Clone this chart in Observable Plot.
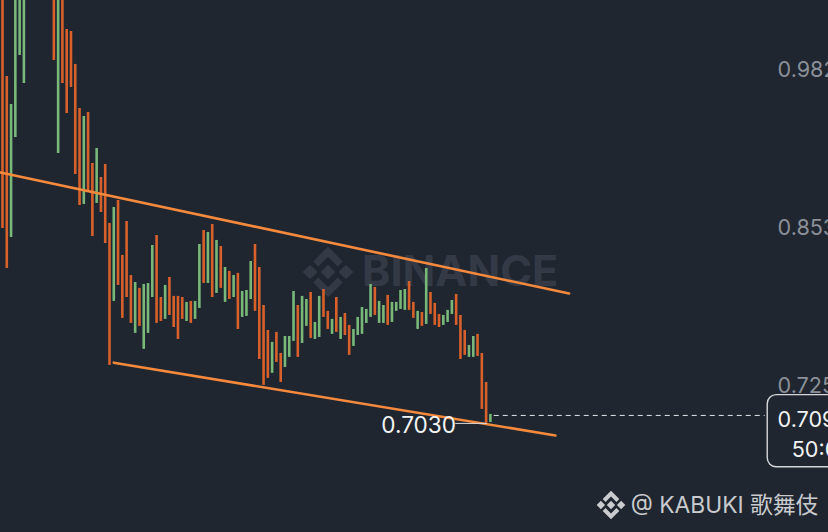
<!DOCTYPE html>
<html><head><meta charset="utf-8">
<script src="https://cdn.jsdelivr.net/npm/d3@7"></script>
<script src="https://cdn.jsdelivr.net/npm/@observablehq/plot@0.6"></script>
<style>html,body{margin:0;padding:0;background:#1f2630;overflow:hidden}</style>
</head><body><div id="chart"></div>
<script>
const barDirs = "ooggggxxxx"+"xxogooooog"+"oogooogooo"+"ogogggoogo"+"ooogoggogo"+"gogogogggo"+"ooogoogggo"+"ggoggoogog"+"oogggggogg"+"oggggoogog"+"ooogggooog"+"gooog";
const highs = [1.05,.9755,.9527,1.05,1.05,1.05,null,null,null,null,
null,null,1.05,1.05,1.05,1.0137,1.0121,.9853,.9495,.9430,
.9462,.9048,.9170,.8934,.9040,.8560,.8690,.8747,.8300,.8576,
.8137,.8080,.8032,.8064,.8072,.8381,.8462,.7958,.8056,.8121,
.7967,.7967,.7958,.7918,.7926,.7926,.8389,.8503,.8487,.8552,
.8422,.8373,.8202,.8170,.8137,.8154,.8007,.8015,.8251,.8389,
.8202,.7893,.7690,.7593,.7674,.7503,.7641,.7641,.8007,.7893,
.7967,.7942,.7999,.7755,.7967,.8023,.7845,.7780,.7958,.7796,
.7828,.7731,.7698,.7796,.7877,.7861,.8064,.8040,.7926,.7893,
.7975,.7918,.7918,.8015,.8023,.8088,.7918,.7845,.7836,.8194,
.7999,.7910,.7820,.7812,.7853,.7934,.7983,.7812,.7690,.7568,
.7641,.7658,.7503,.7267,.7007];
const lows = [.8519,.8194,.8446,.9259,.9926,.9698,null,null,null,null,
null,null,.9885,.9129,.9698,.9454,.9666,.8958,.8706,.8714,
.8812,.8454,.8723,.8649,.8397,.7406,.7926,.8056,.7788,.7958,
.7747,.7666,.7723,.7536,.7666,.7958,.7747,.7763,.7780,.7812,
.7714,.7617,.7780,.7763,.7747,.7780,.7869,.8072,.8072,.7958,
.7991,.8032,.7918,.7942,.7958,.7698,.7796,.7804,.7942,.7845,
.7454,.7243,.7300,.7341,.7430,.7267,.7389,.7471,.7601,.7471,
.7584,.7723,.7625,.7617,.7633,.7796,.7698,.7658,.7674,.7617,
.7649,.7487,.7560,.7649,.7658,.7747,.7796,.7812,.7747,.7747,
.7731,.7755,.7845,.7861,.7853,.7853,.7788,.7698,.7723,.7739,
.7820,.7731,.7714,.7731,.7755,.7820,.7731,.7454,.7487,.7471,
.7471,.7479,.7048,.6934,.6942];
const tickValues = [0.982, 0.853, 0.725];
const tickLabels = ["0.9820", "0.8530", "0.7250"];
const upperTrend = [[-0.47,.8975],[132.4,.7990]];
const lowerTrend = [[26.0,.7428],[129.2,.6836]];
const lastPrice = .6999;
const lowLabel = "0.7030";
const bars = highs.map((h,i)=>({i,h,l:lows[i],d:barDirs[i]})).filter(b=>b.h!=null);
const W=828,H=532;
const xDomain=[-0.467,193], yDomain=[1.0373,0.6047];

function logo(cx,cy,s,fill){
  // Binance-style emblem: centre/side squares and two chevrons
  return ()=>{
    const g=d3.create("svg:g").attr("transform",`translate(${cx},${cy}) scale(${s})`).attr("fill",fill);
    g.append("path").attr("d",
      "M0,-3.2L3.2,0L0,3.2L-3.2,0Z M-7.8,-3.2L-4.6,0L-7.8,3.2L-11,0Z M7.8,-3.2L11,0L7.8,3.2L4.6,0Z "+
      "M0,-11L6.4,-4.6L4.2,-2.4L0,-6.6L-4.2,-2.4L-6.4,-4.6Z M0,11L6.4,4.6L4.2,2.4L0,6.6L-4.2,2.4L-6.4,4.6Z");
    return g.node();
  };
}
const font="Inter, Roboto, sans-serif";
const plot=Plot.plot({
  width:W,height:H,margin:0,
  style:{background:"#1f2630",fontFamily:font},
  x:{domain:xDomain,range:[0,W],axis:null},
  y:{domain:yDomain,range:[0,H],axis:null},
  color:{domain:["o","g"],range:["#d8602a","#78b878"]},
  marks:[
    logo(328,272,2.3,"#333a46"),
    Plot.text(["BINANCE"],{x:[84],y:[.8161],text:d=>d,textAnchor:"start",fill:"#333a46",fontSize:43,fontWeight:700,fontFamily:font}),
    Plot.ruleX(bars,{x:"i",y1:"h",y2:"l",stroke:"d",strokeWidth:2.6}),
    Plot.line(upperTrend,{x:d=>d[0],y:d=>d[1],stroke:"#f5893c",strokeWidth:2.6}),
    Plot.line(lowerTrend,{x:d=>d[0],y:d=>d[1],stroke:"#f5893c",strokeWidth:2.6}),
    Plot.ruleY([lastPrice],{x1:114.9,x2:178.2,stroke:"#e4e6e8",strokeWidth:1,strokeDasharray:"5 4"}),
    Plot.ruleY([.6934],{x1:105.9,x2:113.3,stroke:"#d8dadc",strokeWidth:1}),
    Plot.text([lowLabel],{x:[88.5],y:[.6914],text:d=>d,textAnchor:"start",fill:"#f2f3f4",fontSize:22.6,fontFamily:font}),
    Plot.text(tickValues,{x:[181.1,181.1,181.1],y:d=>d-.0009,text:(d,i)=>tickLabels[i],textAnchor:"start",fill:"#8b9098",fontSize:21.6,fontFamily:font}),
    Plot.rect([0],{x1:178.8,x2:200,y1:.7164,y2:.6577,fill:"#1f2630",stroke:"#d5d7da",strokeWidth:1.4,rx:9}),
    Plot.text(["0.7090"],{x:[181.1],y:[.6964],text:d=>d,textAnchor:"start",fill:"#f2f3f4",fontSize:21.6,fontFamily:font}),
    Plot.text(["50:00"],{x:[184.4],y:[.6721],text:d=>d,textAnchor:"start",fill:"#f2f3f4",fontSize:21.6,fontFamily:font}),
    logo(611,505,1.3,"#c9cbce"),
    Plot.text(["@ KABUKI 歌舞伎"],{x:[146.8],y:[.6267],text:d=>d,textAnchor:"start",fill:"#c9cbce",fontSize:22.8,fontFamily:"Inter, Roboto, 'Noto Sans CJK TC', sans-serif"})
  ]
});
document.getElementById("chart").append(plot);
</script></body></html>
